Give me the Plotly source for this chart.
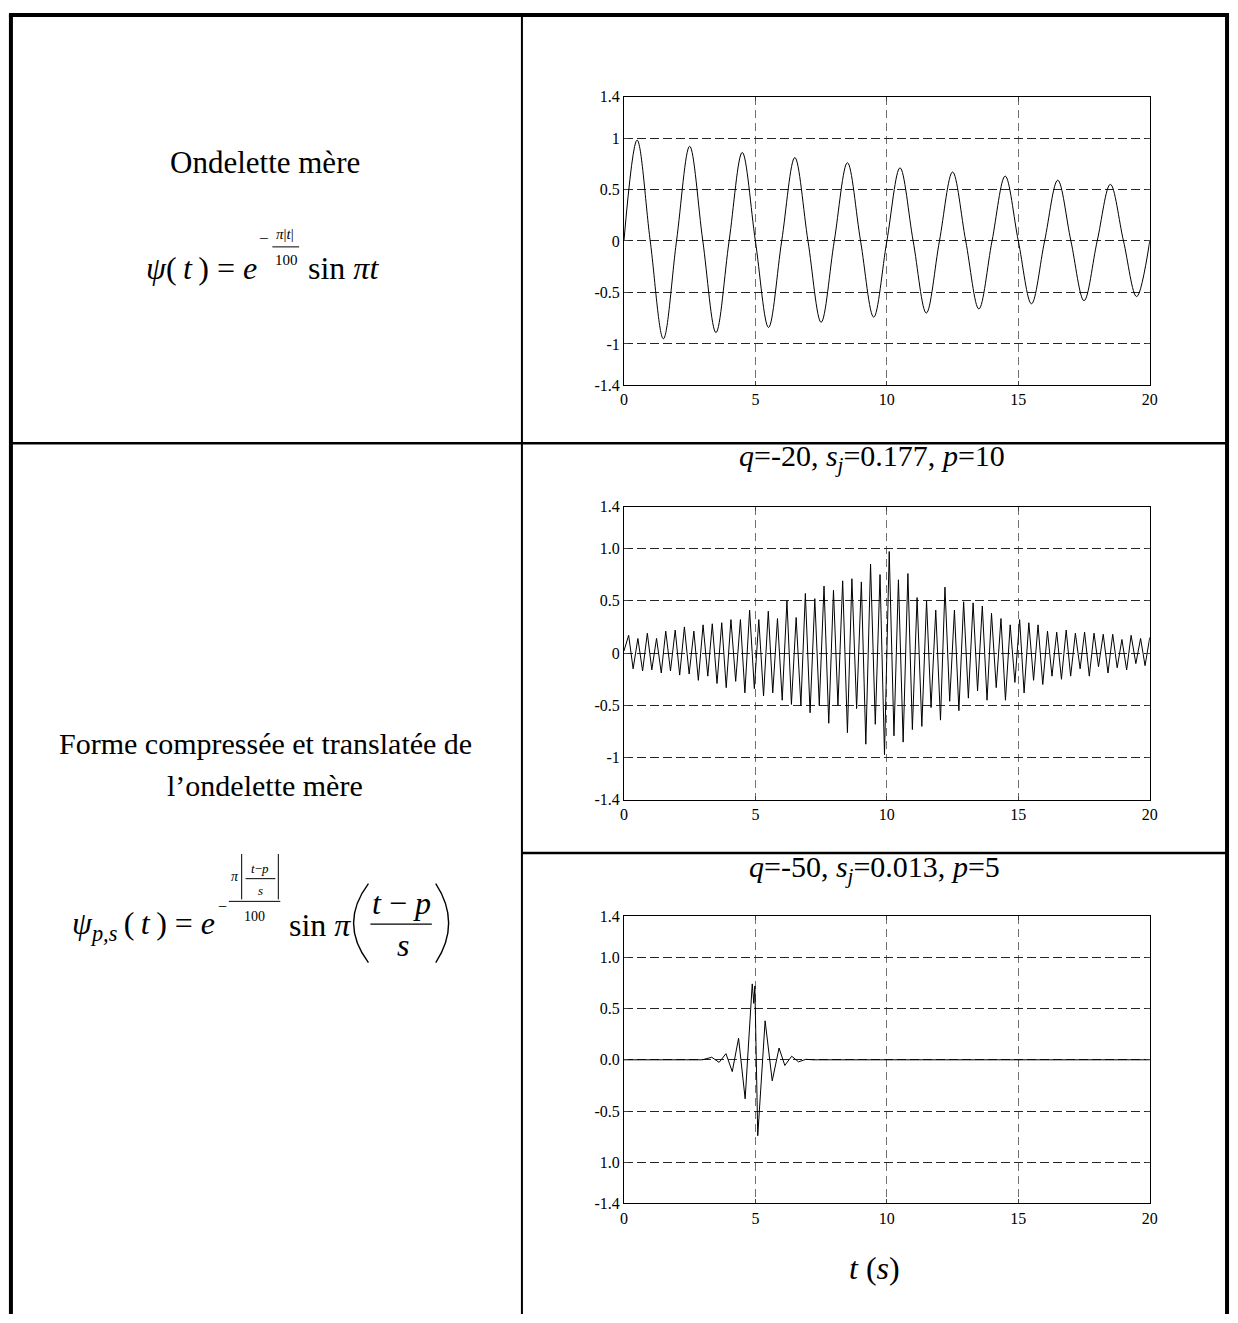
import plotly.graph_objects as go

W, H = 1238, 1323
FONT = "Liberation Serif"

# ---- données ----
# ondelette mère : passages par zéro et extrema
t_mere = [0, 0.5, 1, 1.5, 2, 2.5, 3, 3.5, 4, 4.5, 5, 5.5, 6, 6.5, 7, 7.5, 8, 8.5, 9, 9.5,
          10, 10.5, 11, 11.5, 12, 12.5, 13, 13.5, 14, 14.5, 15, 15.5, 16, 16.5, 17, 17.5,
          18, 18.5, 19, 19.5, 20]
psi_mere = [0, 0.98, 0, -0.95, 0, 0.92, 0, -0.89, 0, 0.86, 0, -0.84, 0, 0.81, 0, -0.79,
            0, 0.76, 0, -0.74, 0, 0.71, 0, -0.70, 0, 0.67, 0, -0.66, 0, 0.63, 0, -0.61,
            0, 0.59, 0, -0.58, 0, 0.55, 0, -0.54, 0]

# q=-20, s=0.177, p=10 : pointes successives
t_q20 = [0.00, 0.18, 0.35, 0.53, 0.71, 0.89, 1.06, 1.24, 1.42, 1.59, 1.77, 1.95, 2.12, 2.30,
         2.48, 2.66, 2.83, 3.01, 3.19, 3.36, 3.54, 3.72, 3.89, 4.07, 4.25, 4.43, 4.60, 4.78,
         4.96, 5.13, 5.31, 5.49, 5.66, 5.84, 6.02, 6.20, 6.37, 6.55, 6.73, 6.90, 7.08, 7.26,
         7.43, 7.61, 7.79, 7.97, 8.14, 8.32, 8.50, 8.67, 8.85, 9.03, 9.20, 9.38, 9.56, 9.74,
         9.91, 10.09, 10.27, 10.44, 10.62, 10.80, 10.97, 11.15, 11.33, 11.51, 11.68, 11.86,
         12.04, 12.21, 12.39, 12.57, 12.74, 12.92, 13.10, 13.28, 13.45, 13.63, 13.81, 13.98,
         14.16, 14.34, 14.51, 14.69, 14.87, 15.05, 15.22, 15.40, 15.58, 15.75, 15.93, 16.11,
         16.28, 16.46, 16.64, 16.82, 16.99, 17.17, 17.35, 17.52, 17.70, 17.88, 18.05, 18.23,
         18.41, 18.59, 18.76, 18.94, 19.12, 19.29, 19.47, 19.65, 19.82, 20.00]
psi_q20 = [0.02, 0.17, -0.15, 0.14, -0.17, 0.19, -0.16, 0.14, -0.19, 0.21, -0.17, 0.22,
           -0.21, 0.25, -0.20, 0.21, -0.26, 0.27, -0.22, 0.28, -0.29, 0.29, -0.33, 0.32,
           -0.27, 0.32, -0.38, 0.41, -0.34, 0.32, -0.41, 0.40, -0.38, 0.33, -0.45, 0.50,
           -0.49, 0.34, -0.50, 0.57, -0.57, 0.52, -0.50, 0.64, -0.67, 0.60, -0.50, 0.69,
           -0.76, 0.71, -0.53, 0.68, -0.87, 0.85, -0.68, 0.75, -0.97, 0.97, -0.79, 0.70,
           -0.85, 0.76, -0.73, 0.53, -0.70, 0.50, -0.52, 0.41, -0.64, 0.63, -0.46, 0.41,
           -0.55, 0.49, -0.43, 0.48, -0.36, 0.45, -0.45, 0.38, -0.33, 0.33, -0.45, 0.27,
           -0.28, 0.32, -0.38, 0.29, -0.26, 0.27, -0.30, 0.21, -0.22, 0.20, -0.25, 0.22,
           -0.22, 0.19, -0.15, 0.20, -0.22, 0.19, -0.13, 0.18, -0.19, 0.18, -0.14, 0.13,
           -0.16, 0.17, -0.10, 0.14, -0.12, 0.15]

# q=-50, s=0.013, p=5
t_q50 = [0, 2.98, 3.34, 3.62, 3.88, 4.12, 4.36, 4.61, 4.88, 4.94, 4.98, 5.09, 5.37, 5.64,
         5.90, 6.12, 6.38, 6.64, 6.92, 7.2, 20]
psi_q50 = [0, 0, 0.025, -0.025, 0.06, -0.115, 0.21, -0.38, 0.74, 0.55, 0.72, -0.74, 0.38,
           -0.205, 0.115, -0.055, 0.035, -0.02, 0.005, 0, 0]

x_ticks = [0, 5, 10, 15, 20]
y_ticks = [-1.4, -1, -0.5, 0, 0.5, 1, 1.4]
y_text_1 = ["-1.4", "-1", "-0.5", "0", "0.5", "1", "1.4"]
y_text_2 = ["-1.4", "-1", "-0.5", "0", "0.5", "1.0", "1.4"]
y_text_3 = ["-1.4", "1.0", "-0.5", "0.0", "0.5", "1.0", "1.4"]


def px(x):
    return x / W


def py(y):
    return 1 - y / H


fig = go.Figure()

panels = [
    (t_mere, psi_mere, "spline", y_text_1, (90, 382)),
    (t_q20, psi_q20, "linear", y_text_2, (505, 802)),
    (t_q50, psi_q50, "linear", y_text_3, (920, 1211)),
]

for i, (tx, ty, shape, ytext, (top, bottom)) in enumerate(panels, start=1):
    sfx = "" if i == 1 else str(i)
    fig.add_trace(go.Scatter(x=tx, y=ty, mode="lines", showlegend=False,
                             line=dict(color="black", width=1, shape=shape),
                             xaxis="x" + sfx, yaxis="y" + sfx))
    fig.layout["xaxis" + sfx] = dict(
        domain=[px(626), px(1157)], anchor="y" + sfx, range=[0, 20],
        tickvals=x_ticks, ticks="inside", ticklen=4, mirror="ticks",
        showline=True, linecolor="black", linewidth=1,
        showgrid=True, gridcolor="#707070", gridwidth=1, griddash="8px,5px",
        zeroline=False, tickfont=dict(family=FONT, size=16, color="black"))
    fig.layout["yaxis" + sfx] = dict(
        domain=[py(bottom), py(top)], anchor="x" + sfx, range=[-1.4, 1.4],
        tickvals=y_ticks, ticktext=ytext, ticks="inside", ticklen=4, mirror="ticks",
        showline=True, linecolor="black", linewidth=1,
        showgrid=True, gridcolor="#262626", gridwidth=1, griddash="9px,4px",
        zeroline=False, tickfont=dict(family=FONT, size=16, color="black"))

# ---- cadre du tableau ----
shapes = []


def seg(x0, y0, x1, y1, w):
    shapes.append(dict(type="line", xref="paper", yref="paper",
                       x0=px(x0), y0=py(y0), x1=px(x1), y1=py(y1),
                       line=dict(color="black", width=w)))


seg(5, 7, 1237, 7, 4)
seg(7, 7, 7, 1323, 4)
seg(1235, 7, 1235, 1323, 4)
seg(523, 7, 523, 1323, 2)
seg(7, 441, 1235, 441, 2.5)
seg(523, 856, 1235, 856, 2.5)

# barres de fraction et valeurs absolues des formules
seg(271, 242, 298, 242, 1)
seg(227, 905, 279, 905, 1)
seg(244, 882, 274, 882, 1)
seg(240, 857, 240, 903, 1)
seg(277, 857, 277, 903, 1)
seg(370, 928, 432, 928, 1.3)


def paren(xa, xc):
    # grande parenthèse tracée en courbe
    shapes.append(dict(type="path", xref="paper", yref="paper",
                       path=f"M {px(xa)},{py(887)} Q {px(xc)},{py(927)} {px(xa)},{py(967)}",
                       line=dict(color="black", width=1.4)))


paren(368, 338)
paren(436, 462)

annotations = []


def ann(text, x, y, size, xanchor="center"):
    annotations.append(dict(text=text, x=px(x), y=py(y), xref="paper", yref="paper",
                            xanchor=xanchor, yanchor="middle", showarrow=False,
                            font=dict(family=FONT, size=size, color="black")))


TS = "\u2009"
ann("Ondelette mère", 264, 157, 31)
ann(f"<i>ψ</i>({TS}<i>t</i>{TS}) = <i>e</i>", 258, 263, 32, "right")
ann("−", 263, 234, 17)
ann("<i>π</i>|<i>t</i>|", 284, 229, 15)
ann("100", 285, 255, 15)
ann("sin <i>πt</i>", 305, 263, 32, "left")

ann("Forme compressée et translatée de", 264, 745, 30)
ann("l’ondelette mère", 264, 788, 30)
ann(f"<i>ψ</i><sub><i>p,s</i></sub>{TS}({TS}<i>t</i>{TS}) = <i>e</i>", 215, 929, 32, "right")
ann("−", 221, 910, 16)
ann("<i>π</i>", 233, 880, 14)
ann("<i>t</i>−<i>p</i>", 259, 872, 13)
ann("<i>s</i>", 259, 894, 13)
ann("100", 253, 920, 14)
ann("sin <i>π</i>", 286, 929, 32, "left")
ann("<i>t</i> − <i>p</i>", 401, 907, 32)
ann("<i>s</i>", 403, 949, 32)

ann("<i>q</i>=-20, <i>s<sub>j</sub></i>=0.177, <i>p</i>=10", 876, 456, 30)
ann("<i>q</i>=-50, <i>s<sub>j</sub></i>=0.013, <i>p</i>=5", 879, 872, 30)
ann("<i>t</i> (<i>s</i>)", 879, 1276, 32)

fig.update_layout(
    width=W, height=H, margin=dict(l=0, r=0, t=0, b=0),
    paper_bgcolor="white", plot_bgcolor="white",
    shapes=shapes, annotations=annotations, showlegend=False,
)

# la marge par défaut du <body> décalerait la figure de 8 px
fig.write_html("out.html", config={"displayModeBar": False},
               post_script="document.body.style.margin = '0';")
